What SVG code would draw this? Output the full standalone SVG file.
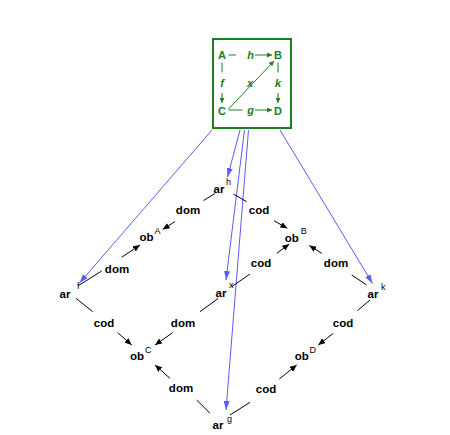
<svg xmlns="http://www.w3.org/2000/svg" width="450" height="435" viewBox="0 0 450 435">
<defs>
<style>
.t{font-family:"Liberation Sans",Arial,sans-serif;font-weight:bold;font-size:11.5px;fill:#000;text-anchor:middle}
.s{font-family:"Liberation Sans",Arial,sans-serif;font-size:9px;fill:#000}
.g{font-family:"Liberation Sans",Arial,sans-serif;font-weight:bold;font-size:11px;fill:#1e7e1e;text-anchor:middle}
.gi{font-style:italic}
.bl{stroke:#5a5aff;stroke-width:1;fill:none}
.k{stroke:#000;stroke-width:1;fill:none}
.gl{stroke:#1e7e1e;stroke-width:1;fill:none}
</style>
<marker id="mb" markerUnits="userSpaceOnUse" markerWidth="10" markerHeight="6" refX="9" refY="3" orient="auto"><path d="M0,0 L9,3 L0,6 z" fill="#5a5aff"/></marker>
<marker id="mk" markerUnits="userSpaceOnUse" markerWidth="8" markerHeight="6" refX="7" refY="3" orient="auto"><path d="M0,0 L7,3 L0,6 z" fill="#000"/></marker>
<marker id="mg" markerUnits="userSpaceOnUse" markerWidth="6" markerHeight="5" refX="5" refY="2.5" orient="auto"><path d="M0,0 L5,2.5 L0,5 z" fill="#1e7e1e"/></marker>
</defs>
<rect width="450" height="435" fill="#fff"/>

<g id="square">
<rect x="213" y="39" width="78" height="89" fill="#fff" stroke="#1e7e1e" stroke-width="2"/>
<text class="g" x="222" y="59">A</text>
<text class="g" x="278" y="59">B</text>
<text class="g" x="222" y="115">C</text>
<text class="g" x="278" y="115">D</text>
<text class="g gi" x="250.5" y="59">h</text>
<text class="g gi" x="222" y="87">f</text>
<text class="g gi" x="250" y="87">x</text>
<text class="g gi" x="278" y="87">k</text>
<text class="g gi" x="250.5" y="114">g</text>
<line class="gl" x1="228.5" y1="55" x2="236" y2="55"/>
<line class="gl" x1="255" y1="55" x2="272" y2="55" marker-end="url(#mg)"/>
<line class="gl" x1="222" y1="62.5" x2="222" y2="72.5"/>
<line class="gl" x1="222" y1="93" x2="222" y2="103" marker-end="url(#mg)"/>
<line class="gl" x1="278" y1="62.5" x2="278" y2="72.5"/>
<line class="gl" x1="278" y1="93" x2="278" y2="103" marker-end="url(#mg)"/>
<line class="gl" x1="228.5" y1="110" x2="242.5" y2="110"/>
<line class="gl" x1="255" y1="110" x2="272" y2="110" marker-end="url(#mg)"/>
<line class="gl" x1="228.5" y1="109" x2="274" y2="61" marker-end="url(#mg)"/>
</g>

<g id="ar_h"><text class="t" x="219" y="192.5">ar</text><text class="s" x="226" y="184.5">h</text></g>
<g id="ar_f"><text class="t" x="65" y="297.5">ar</text><text class="s" x="77" y="288.5">f</text></g>
<g id="ar_x"><text class="t" x="221" y="296.5">ar</text><text class="s" x="229" y="288">x</text></g>
<g id="ar_k"><text class="t" x="373" y="297.5">ar</text><text class="s" x="381" y="290">k</text></g>
<g id="ar_g"><text class="t" x="218" y="429">ar</text><text class="s" x="227" y="421.5">g</text></g>
<g id="ob_A"><text class="t" x="146.5" y="241">ob</text><text class="s" x="154.5" y="234">A</text></g>
<g id="ob_B"><text class="t" x="291.7" y="241.5">ob</text><text class="s" x="300.7" y="234.3">B</text></g>
<g id="ob_C"><text class="t" x="137" y="359.5">ob</text><text class="s" x="145" y="352.5">C</text></g>
<g id="ob_D"><text class="t" x="301.7" y="359.5">ob</text><text class="s" x="309.5" y="352.5">D</text></g>

<g id="connectors">
<line class="bl" x1="212" y1="130" x2="79.5" y2="283" marker-end="url(#mb)"/>
<line class="bl" x1="240" y1="130" x2="227.5" y2="177" marker-end="url(#mb)"/>
<line class="bl" x1="244.5" y1="130" x2="226" y2="280" marker-end="url(#mb)"/>
<line class="bl" x1="248.5" y1="130" x2="226" y2="410" marker-end="url(#mb)"/>
<line class="bl" x1="280" y1="130" x2="372.5" y2="283.5" marker-end="url(#mb)"/>

<line class="k" x1="203.5" y1="200.5" x2="215" y2="193.5"/>
<text class="t" x="188" y="214">dom</text>
<line class="k" x1="175" y1="221.5" x2="162.7" y2="229.5" marker-end="url(#mk)"/>

<line class="k" x1="78.3" y1="285.7" x2="101.7" y2="271"/>
<text class="t" x="117" y="272.5">dom</text>
<line class="k" x1="121.7" y1="257.3" x2="140" y2="245" marker-end="url(#mk)"/>

<line class="k" x1="233.3" y1="194" x2="246.7" y2="201.7"/>
<text class="t" x="259" y="214">cod</text>
<line class="k" x1="274" y1="220.7" x2="287.3" y2="228.3" marker-end="url(#mk)"/>

<line class="k" x1="231.7" y1="286.7" x2="250" y2="274"/>
<text class="t" x="261" y="267.3">cod</text>
<line class="k" x1="276.7" y1="253.3" x2="289.3" y2="244" marker-end="url(#mk)"/>

<line class="k" x1="366.7" y1="285" x2="351.7" y2="275"/>
<text class="t" x="336" y="267.3">dom</text>
<line class="k" x1="321.7" y1="253.3" x2="309.3" y2="245.5" marker-end="url(#mk)"/>

<line class="k" x1="76" y1="298.3" x2="92.7" y2="311.7"/>
<text class="t" x="104" y="326.5">cod</text>
<line class="k" x1="117.7" y1="332.7" x2="131.7" y2="345" marker-end="url(#mk)"/>

<line class="k" x1="218.3" y1="298.3" x2="200" y2="311.7"/>
<text class="t" x="183" y="326.5">dom</text>
<line class="k" x1="172.7" y1="332.7" x2="155" y2="345" marker-end="url(#mk)"/>

<line class="k" x1="357.3" y1="310.7" x2="370" y2="300"/>
<text class="t" x="343" y="326.5">cod</text>
<line class="k" x1="333.3" y1="333.3" x2="318.3" y2="345" marker-end="url(#mk)"/>

<line class="k" x1="210" y1="413.3" x2="196.7" y2="400"/>
<text class="t" x="181" y="392">dom</text>
<line class="k" x1="170" y1="378.3" x2="155" y2="365" marker-end="url(#mk)"/>

<line class="k" x1="230" y1="415" x2="250" y2="402.3"/>
<text class="t" x="266" y="393">cod</text>
<line class="k" x1="279.3" y1="379" x2="296.7" y2="365" marker-end="url(#mk)"/>
</g>
</svg>
